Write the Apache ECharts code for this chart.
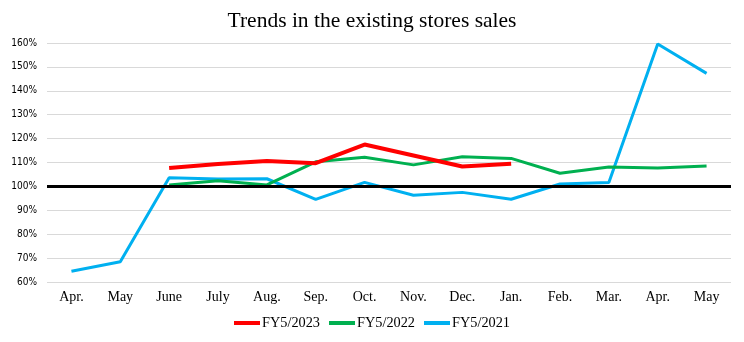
<!DOCTYPE html>
<html>
<head>
<meta charset="utf-8">
<script src="https://cdn.jsdelivr.net/npm/echarts@6/dist/echarts.min.js"></script>
<style>
html,body{margin:0;padding:0;background:#fff;}
#c{width:744px;height:342px;}
</style>
</head>
<body>
<div id="c"></div>
<script>
const categories = ['Apr.','May','June','July','Aug.','Sep.','Oct.','Nov.','Dec.','Jan.','Feb.','Mar.','Apr.','May'];
const fy2023 = [null, null, 107.7, 109.4, 110.6, 109.7, 117.5, 112.9, 108.3, 109.5, null, null, null, null];
const fy2022 = [null, null, 100.6, 102.4, 100.6, 110.3, 112.2, 109.0, 112.4, 111.7, 105.5, 108.1, 107.7, 108.5];
const fy2021 = [64.5, 68.5, 103.6, 103.1, 103.2, 94.6, 101.7, 96.3, 97.5, 94.6, 101.0, 101.6, 159.6, 147.3];
const baseline = 100;
const seriesNames = ['FY5/2023','FY5/2022','FY5/2021'];

const chart = echarts.init(document.getElementById('c'));
const serif = "'Liberation Serif','Times New Roman',serif";
chart.setOption({
  animation: false,
  backgroundColor: '#fff',
  title: {
    text: 'Trends in the existing stores sales',
    left: 'center', top: 5,
    textStyle: {fontFamily: serif, fontSize: 21.5, fontWeight: 'normal', color: '#000'}
  },
  legend: {
    bottom: 7, left: 'center',
    itemWidth: 26, itemHeight: 4, itemGap: 9,
    icon: 'rect',
    textStyle: {fontFamily: serif, fontSize: 14.3, color: '#000', padding: [0,0,0,-3]},
    data: seriesNames
  },
  grid: {left: 47, right: 13, top: 43, bottom: 60},
  xAxis: {
    type: 'category',
    data: categories,
    boundaryGap: true,
    axisLine: {show: false},
    axisTick: {show: false},
    axisLabel: {fontFamily: serif, fontSize: 14, color: '#000', margin: 8}
  },
  yAxis: {
    type: 'value',
    min: 60, max: 160, interval: 10,
    axisLine: {show: false},
    axisTick: {show: false},
    splitLine: {lineStyle: {color: '#d9d9d9', width: 1}},
    axisLabel: {
      formatter: '{value}%',
      fontFamily: "'Liberation Sans Narrow','DejaVu Sans Condensed',sans-serif",
      fontSize: 10, color: '#000', margin: 10
    }
  },
  series: [
    {
      name: seriesNames[0], type: 'line', data: fy2023,
      showSymbol: false, symbol: 'none', z: 5,
      lineStyle: {color: '#ff0000', width: 4},
      itemStyle: {color: '#ff0000'}
    },
    {
      name: seriesNames[1], type: 'line', data: fy2022,
      showSymbol: false, symbol: 'none', z: 4,
      lineStyle: {color: '#00b050', width: 3},
      itemStyle: {color: '#00b050'}
    },
    {
      name: seriesNames[2], type: 'line', data: fy2021,
      showSymbol: false, symbol: 'none', z: 3,
      lineStyle: {color: '#00b0f0', width: 3},
      itemStyle: {color: '#00b0f0'},
      markLine: {
        silent: true, symbol: 'none', label: {show: false},
        lineStyle: {color: '#000', width: 3, type: 'solid'},
        data: [{yAxis: baseline}]
      }
    }
  ]
});
</script>
</body>
</html>
